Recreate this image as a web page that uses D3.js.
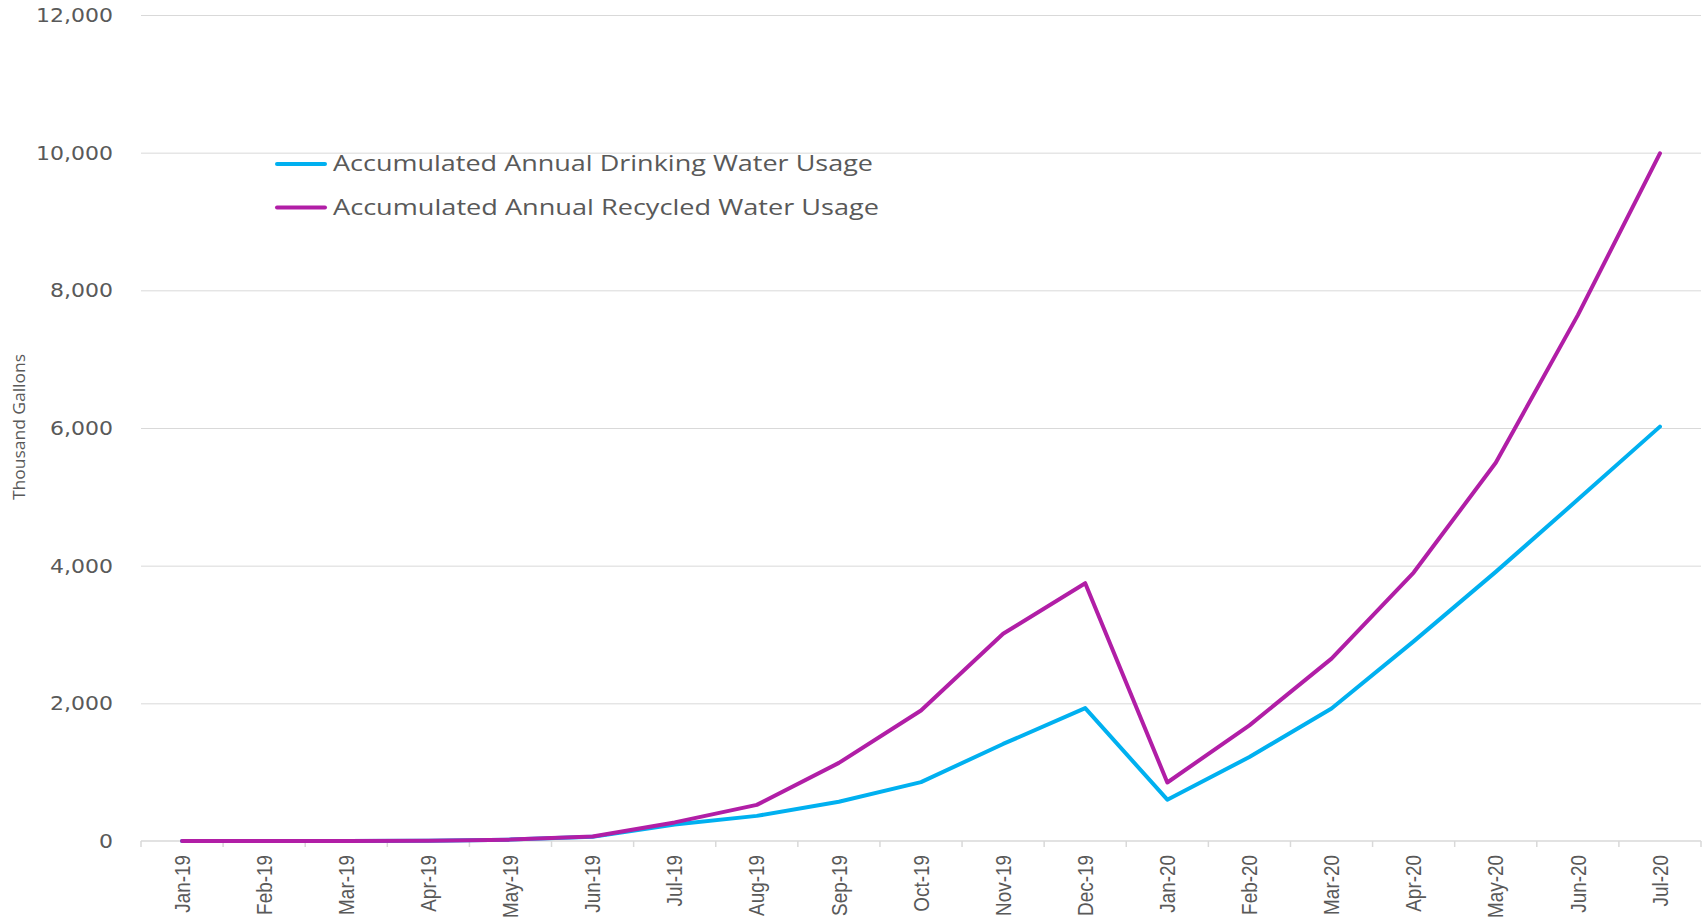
<!DOCTYPE html>
<html lang="en">
<head>
	<meta charset="UTF-8">
	<title>Accumulated Annual Water Usage</title>
	<script type="text/javascript" src="https://d3js.org/d3.v7.min.js"></script>
	<style>
		html, body { margin: 0; padding: 0; background: #fff; }
		svg { display: block; }
	</style>
</head>
<body>
	<svg id="chart" width="1703" height="924"></svg>

	<script>
		// data
		var months = ["Jan-19","Feb-19","Mar-19","Apr-19","May-19","Jun-19","Jul-19","Aug-19","Sep-19","Oct-19",
			"Nov-19","Dec-19","Jan-20","Feb-20","Mar-20","Apr-20","May-20","Jun-20","Jul-20"];
		var drinking = [0, 0, 0, 3, 20, 60, 240, 365, 570, 855, 1410, 1930, 600, 1220, 1925, 2900, 3910, 4960, 6020];
		var recycled = [0, 0, 0, 3, 20, 65, 270, 525, 1135, 1895, 3010, 3745, 850, 1680, 2650, 3900, 5495, 7640, 9990];
		var yTicks = [0, 2000, 4000, 6000, 8000, 10000, 12000];
		var seriesNames = ["Accumulated Annual Drinking Water Usage", "Accumulated Annual Recycled Water Usage"];
		var seriesColours = ["#00b0f0", "#b11ea6"];

		var svg = d3.select("#chart");
		var plotLeft = 141, plotRight = 1701, plotTop = 15, plotBottom = 841;
		var grey = "#595959", lineGrey = "#d9d9d9";

		var x = d3.scaleBand().domain(months).range([plotLeft, plotRight]).padding(0);
		var y = d3.scaleLinear().domain([0, 12000]).range([plotBottom, plotTop]);
		var cx = function(m) { return x(m) + x.bandwidth()/2; };

		// gridlines
		svg.append("g").selectAll("line").data(yTicks.slice(1)).enter().append("line")
			.attr("x1", plotLeft).attr("x2", plotRight)
			.attr("y1", function(d) {return y(d) + 0.5}).attr("y2", function(d) {return y(d) + 0.5})
			.style("stroke", lineGrey).style("stroke-width", 1);

		// y axis labels (the original is stretched sideways a bit)
		var yAxis = svg.append("g").attr("transform", "translate(" + plotLeft + ",0)")
			.call(d3.axisLeft(y).tickValues(yTicks).tickFormat(d3.format(",")).tickSize(0).tickPadding(28));
		yAxis.select(".domain").remove();
		yAxis.selectAll("text").style("font-family", "DejaVu Sans").style("font-size", "20px").style("fill", grey)
			.each(function() {
				d3.select(this).attr("textLength", this.getComputedTextLength() * 1.1)
					.attr("lengthAdjust", "spacingAndGlyphs");
			});

		// x axis line and tick marks between categories
		svg.append("line").attr("x1", plotLeft).attr("x2", plotRight).attr("y1", plotBottom).attr("y2", plotBottom)
			.style("stroke", lineGrey).style("stroke-width", 1.5);
		var bounds = months.map(function(m) {return x(m)}).concat([x.range()[1]]);
		svg.append("g").selectAll("line").data(bounds).enter().append("line")
			.attr("x1", function(d) {return d}).attr("x2", function(d) {return d})
			.attr("y1", plotBottom).attr("y2", plotBottom + 6)
			.style("stroke", lineGrey).style("stroke-width", 1.5);

		// x labels, rotated and a little condensed along the text
		svg.append("g").selectAll("text").data(months).enter().append("text")
			.attr("transform", function(d) {return "translate(" + cx(d) + "," + (plotBottom + 14) + ") rotate(-90) scale(0.86,1)"})
			.attr("dy", "0.35em")
			.attr("text-anchor", "end")
			.style("font-family", "Liberation Sans").style("font-size", "22px").style("fill", grey)
			.text(function(d) {return d});

		// y axis title
		svg.append("text")
			.attr("transform", "translate(19.5,427) rotate(-90)")
			.attr("dy", "0.35em")
			.attr("text-anchor", "middle")
			.attr("textLength", 146).attr("lengthAdjust", "spacingAndGlyphs")
			.style("font-family", "Open Sans").style("font-size", "16px").style("fill", grey)
			.text("Thousand Gallons");

		// lines
		var line = d3.line().x(function(d, i) {return cx(months[i])}).y(function(d) {return y(d)});
		[drinking, recycled].forEach(function(s, i) {
			svg.append("path").datum(s)
				.attr("d", line)
				.style("fill", "none")
				.style("stroke", seriesColours[i])
				.style("stroke-width", 4)
				.style("stroke-linejoin", "round")
				.style("stroke-linecap", "round");
		});

		// legend
		var legend = svg.append("g").selectAll("g").data(seriesNames).enter().append("g")
			.attr("transform", function(d, i) {return "translate(277," + (164 + i*43.5) + ")"});
		legend.append("line").attr("x1", 0).attr("x2", 48).attr("y1", 0).attr("y2", 0)
			.style("stroke", function(d, i) {return seriesColours[i]})
			.style("stroke-width", 4).style("stroke-linecap", "round");
		legend.append("text").attr("x", 56).attr("dy", "0.35em")
			.attr("textLength", function(d, i) {return i == 0 ? 540 : 546})
			.attr("lengthAdjust", "spacingAndGlyphs")
			.style("font-family", "Open Sans").style("font-size", "21px").style("fill", grey)
			.text(function(d) {return d});
	</script>
</body>
</html>
